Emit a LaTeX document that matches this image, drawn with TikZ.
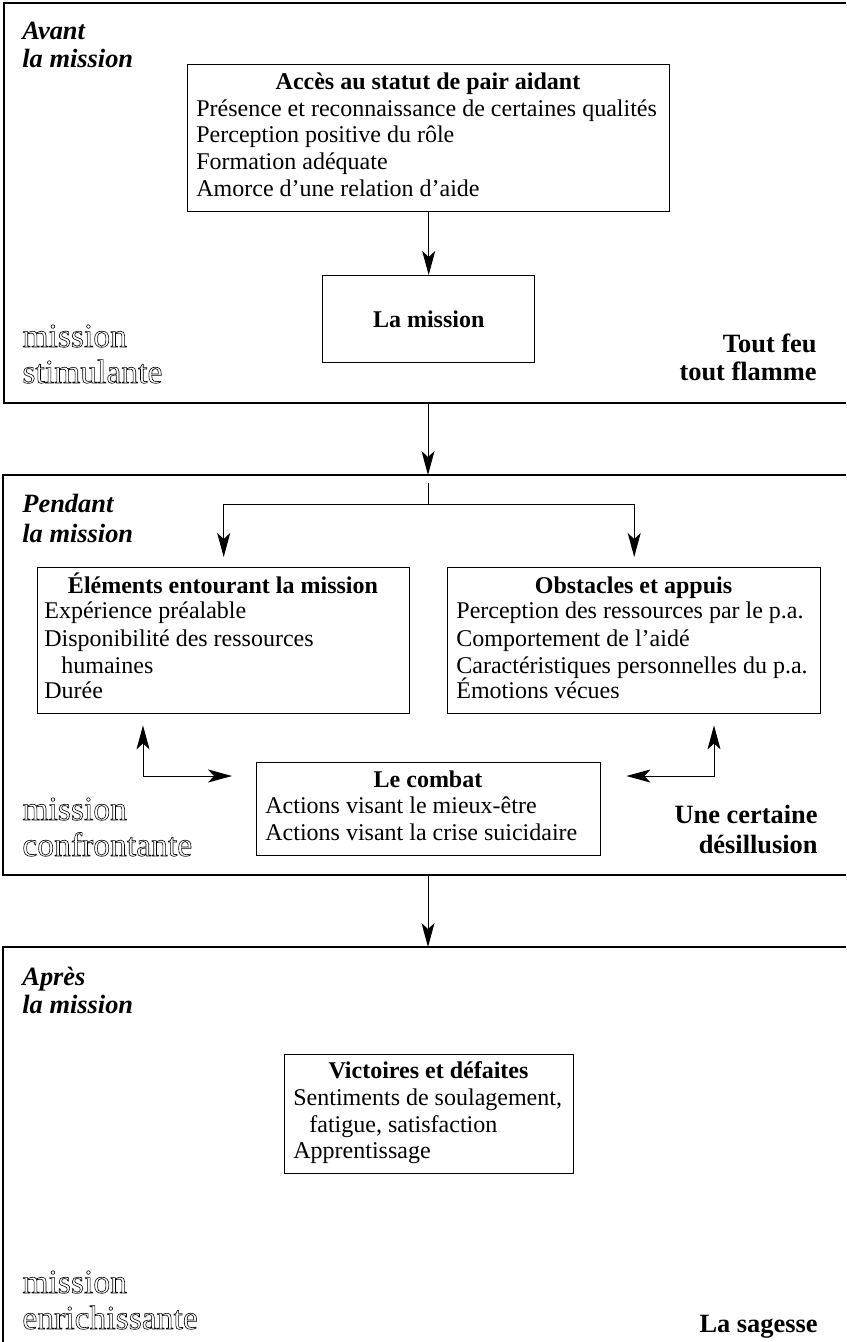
\documentclass[tikz,border=0pt]{standalone}
\usepackage{fontspec}
\setmainfont{Liberation Serif}
\usetikzlibrary{arrows.meta}
\newcommand\outlinetext[1]{\special{pdf:literal direct 1 Tr 0.3 w}#1\special{pdf:literal direct 0 Tr 0.4 w}}
\tikzset{
  box/.style={draw, line width=0.7pt, inner sep=0pt, anchor=north west},
  lbl/.style={inner sep=0pt, font=\fontsize{13.2}{14}\selectfont\bfseries\itshape, anchor=base west},
  rlbl/.style={inner sep=0pt, font=\fontsize{13.2}{14}\selectfont\bfseries, anchor=base east},
  ttl/.style={inner sep=0pt, font=\fontsize{12}{13.35}\selectfont\bfseries, anchor=base},
  body/.style={inner sep=0pt, font=\fontsize{12}{13.35}\selectfont, anchor=base west},
  outl/.style={inner sep=0pt, text depth=0pt, text height=10pt, font=\fontsize{16.8}{18.5}\selectfont, anchor=base west},
  conn/.style={line width=0.5pt},
  arr/.style={line width=0.5pt, -{Stealth[length=12pt,width=6.5pt,inset=3pt]}},
  darr/.style={line width=0.5pt, {Stealth[length=12pt,width=6.5pt,inset=3pt]}-{Stealth[length=12pt,width=6.5pt,inset=3pt]}},
  sect/.style={line width=0.7pt},
}
\begin{document}
\begin{tikzpicture}[x=0.5pt,y=-0.5pt]
\useasboundingbox (0,0) rectangle (846,1342);

% section frames (open on the right)
\draw[sect] (846,3) -- (4,3) -- (4,403) -- (846,403);
\draw[sect] (846,475) -- (3,475) -- (3,875) -- (846,875);
\draw[sect] (846,947) -- (3,947) -- (3,1342);

\coordinate (s1bot) at (428,403);
\coordinate (s2top) at (428,475);
\coordinate (s2bot) at (428,875);
\coordinate (s3top) at (428,947);

% ---------- Section 1 ----------
\node[lbl] (avant1) at (22,40) {Avant};
\node[lbl] (avant2) at (22,68) {la mission};

\node[box, minimum width=241pt, minimum height=73.5pt] (acces) at (187,64) {};
\node[ttl] (accest) at (428,90) {Accès au statut de pair aidant};
\node[body] (acc1) at (196,117) {Présence et reconnaissance de certaines qualités};
\node[body] (acc2) at (196,143) {Perception positive du rôle};
\node[body] (acc3) at (196,170) {Formation adéquate};
\node[body] (acc4) at (196,197) {Amorce d’une relation d’aide};

\node[box, minimum width=106pt, minimum height=43.5pt, font=\fontsize{12}{13.35}\selectfont\bfseries] (lamission) at (322,275) {La mission};

\node[rlbl] (tf1) at (817,352) {Tout feu};
\node[rlbl] (tf2) at (817,380) {tout flamme};

\draw[arr] (acces) -- (lamission);
\draw[arr] (s1bot) -- (s2top);

% ---------- Section 2 ----------
\node[lbl] (pend1) at (22,512) {Pendant};
\node[lbl] (pend2) at (22,542) {la mission};

\node[box, minimum width=186pt, minimum height=73pt] (elem) at (37,567) {};
\node[ttl] (elemt) at (223,593) {Éléments entourant la mission};
\node[body] (el1) at (44,618) {Expérience préalable};
\node[body] (el2) at (44,646) {Disponibilité des ressources};
\node[body] (el3) at (61,673) {humaines};
\node[body] (el4) at (44,698) {Durée};

\node[box, minimum width=186.5pt, minimum height=73pt] (obst) at (447,567) {};
\node[ttl] (obstt) at (633.5,593) {Obstacles et appuis};
\node[body] (ob1) at (456,618) {Perception des ressources par le p.a.};
\node[body] (ob2) at (456,646) {Comportement de l’aidé};
\node[body] (ob3) at (456,673) {Caractéristiques personnelles du p.a.};
\node[body] (ob4) at (456,698) {Émotions vécues};

\node[box, minimum width=172pt, minimum height=46.5pt] (combat) at (256,762) {};
\node[ttl] (combatt) at (428,787) {Le combat};
\node[body] (cb1) at (265,813) {Actions visant le mieux-être};
\node[body] (cb2) at (265,840) {Actions visant la crise suicidaire};

\node[rlbl] (ud1) at (818,823) {Une certaine};
\node[rlbl] (ud2) at (818,853) {désillusion};

\coordinate (br) at (428,483);
\coordinate (bj) at (428,504);
\coordinate (lc) at (143,776);
\coordinate (rc) at (714,776);
\draw[conn] (br) -- (bj);
\draw[arr, shorten >=5pt] (bj) -| (elem.north);
\draw[arr, shorten >=5pt] (bj) -| (obst.north);
\draw[darr, shorten <=5.5pt, shorten >=12pt] (elem.south -| lc) -- (lc) -- (combat.west |- lc);
\draw[darr, shorten <=5.5pt, shorten >=12.5pt] (obst.south -| rc) -- (rc) -- (combat.east |- rc);

\draw[arr] (s2bot) -- (s3top);

% ---------- Section 3 ----------
\node[lbl] (apres1) at (22,985) {Après};
\node[lbl] (apres2) at (22,1013) {la mission};

\node[box, minimum width=144.5pt, minimum height=59.5pt] (vict) at (284,1054) {};
\node[ttl] (victt) at (428.5,1078) {Victoires et défaites};
\node[body] (vi1) at (293,1105) {Sentiments de soulagement,};
\node[body] (vi2) at (309,1132) {fatigue, satisfaction};
\node[body] (vi3) at (293,1158) {Apprentissage};

\node[rlbl] (sag) at (818,1332) {La sagesse};

% outline labels (drawn last)
\node[outl] (o1a) at (22,347) {\outlinetext{mission}};
\node[outl] (o1b) at (22,383) {\outlinetext{stimulante}};
\node[outl] (o2a) at (22,820) {\outlinetext{mission}};
\node[outl] (o2b) at (22,856) {\outlinetext{confrontante}};
\node[outl] (o3a) at (22,1293) {\outlinetext{mission}};
\node[outl] (o3b) at (22,1329) {\outlinetext{enrichissante}};
\end{tikzpicture}
\end{document}
